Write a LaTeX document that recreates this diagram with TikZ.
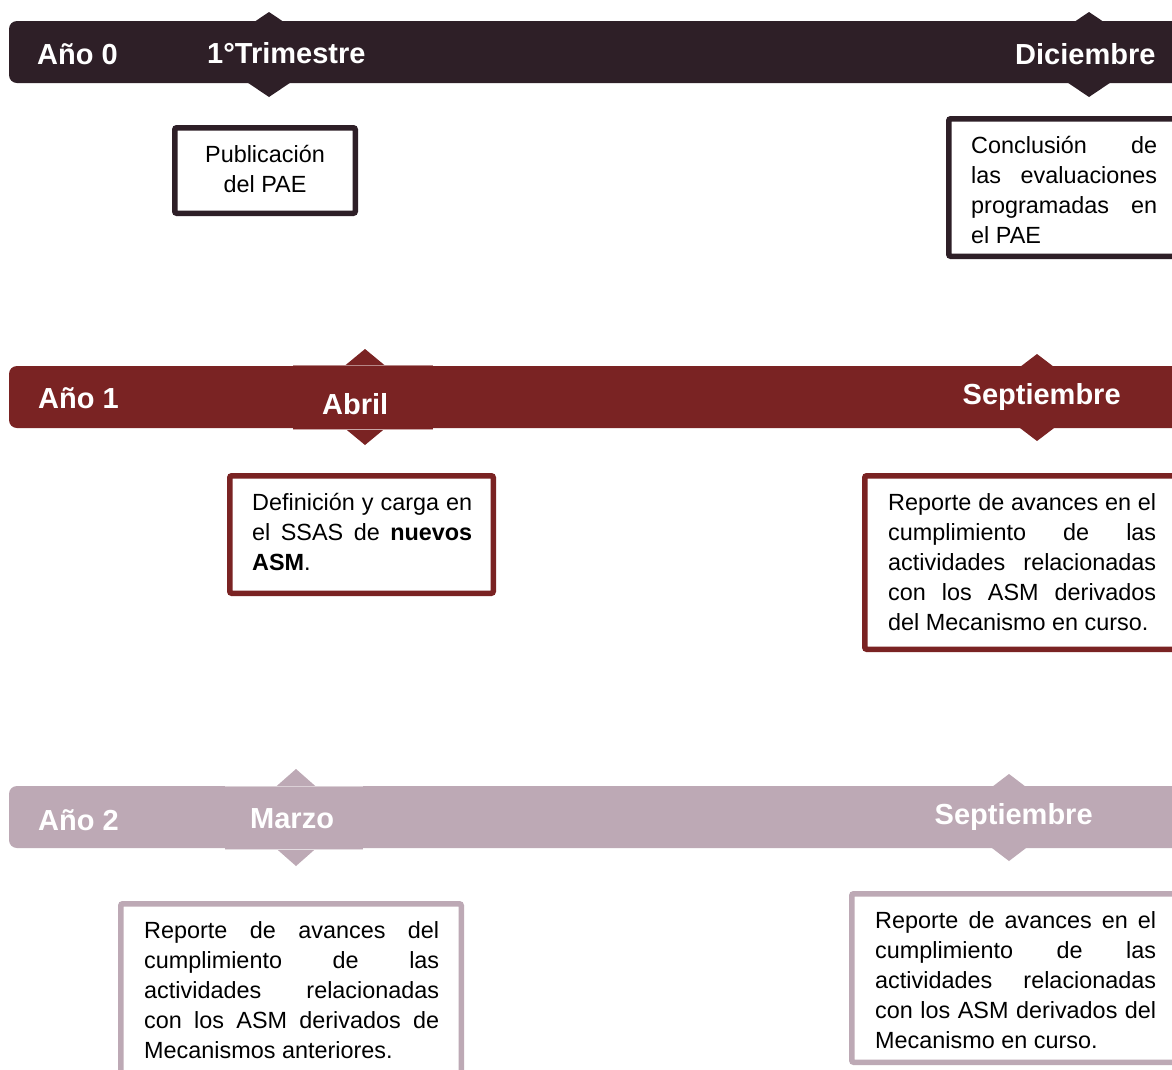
\documentclass[tikz,border=0pt]{standalone}
\usepackage{fontspec}
\setmainfont{Liberation Sans}
\definecolor{cDark}{HTML}{2E1F27}
\definecolor{cRed}{HTML}{7A2323}
\definecolor{cPink}{HTML}{BDA9B5}
\tikzset{
  bandshape/.style={rounded corners=8pt},
  lbl/.style={anchor=base west, inner sep=0pt, text=white, font=\fontsize{29}{34}\selectfont\bfseries},
  boxframe/.style={line width=5.5pt, fill=white, rounded corners=2pt},
  body/.style={anchor=base west, inner sep=0pt, font=\fontsize{23.4}{30}\selectfont},
  bodyc/.style={anchor=base, inner sep=0pt, font=\fontsize{23.4}{30}\selectfont},
  edgeline/.style={line width=0.8pt},
}
\begin{document}
\begin{tikzpicture}[x=1pt,y=-1pt]
\useasboundingbox (0,0) rectangle (1172,1069);
\fill[white] (0,0) rectangle (1172,1069);
\clip (0,0) rectangle (1172,1069);

% ---------- Año 0 ----------
\fill[cDark] (269,12) -- ++(63,42.5) -- ++(-63,42.5) -- ++(-63,-42.5) -- cycle;
\fill[cDark] (1089,12) -- ++(63,42.5) -- ++(-63,42.5) -- ++(-63,-42.5) -- cycle;
\fill[cDark, bandshape] (9,21) rectangle (1210,83);
\node[lbl] (y0) at (37,64) {Año 0};
\node[lbl] (m0a) at (207,63.5) {1°Trimestre};
\node[lbl] (m0b) at (1015,64.5) {Diciembre};

\draw[boxframe, draw=cDark] (174.75,127.75) rectangle (355.25,213.25);
\node[bodyc] (t0a) at (265,162.5) {\parbox[t]{170pt}{\centering Publicación\\del PAE}};

\draw[boxframe, draw=cDark] (948.75,118.75) rectangle (1210,256.25);
\node[body] (t0b) at (971,153.5) {\parbox[t]{186pt}{%
\makebox[186pt][s]{Conclusión de}\\
\makebox[186pt][s]{las evaluaciones}\\
\makebox[186pt][s]{programadas en}\\
el PAE}};

% ---------- Año 1 ----------
\fill[cRed] (365,349) -- ++(58,48) -- ++(-58,48) -- ++(-58,-48) -- cycle;
\fill[cRed] (1037,354) -- ++(57,43.5) -- ++(-57,43.5) -- ++(-57,-43.5) -- cycle;
\fill[cRed, bandshape] (9,366) rectangle (1210,428);
\fill[cRed] (293,365) rectangle (433,430);
\draw[edgeline, cRed!55!white] (293,365.4) -- (433,365.4);
\draw[edgeline, cRed!40!white] (293,429.6) -- (433,429.6);
\node[lbl] (y1) at (38,408) {Año 1};
\node[lbl] (m1a) at (322,414.5) {Abril};
\node[lbl] (m1b) at (962.5,404) {Septiembre};

\draw[boxframe, draw=cRed] (229.75,475.75) rectangle (493.25,593.25);
\node[body] (t1a) at (252,510.5) {\parbox[t]{220pt}{%
\makebox[220pt][s]{Definición y carga en}\\
\makebox[220pt][s]{el SSAS de \textbf{nuevos}}\\
\textbf{ASM}.}};

\draw[boxframe, draw=cRed] (864.75,475.75) rectangle (1210,649.25);
\node[body] (t1b) at (888,510.5) {\parbox[t]{268pt}{%
\makebox[268pt][s]{Reporte de avances en el}\\
\makebox[268pt][s]{cumplimiento de las}\\
\makebox[268pt][s]{actividades relacionadas}\\
\makebox[268pt][s]{con los ASM derivados}\\
del Mecanismo en curso.}};

% ---------- Año 2 ----------
\fill[cPink] (296,769) -- ++(55,48.5) -- ++(-55,48.5) -- ++(-55,-48.5) -- cycle;
\fill[cPink] (1009,774) -- ++(57,43.5) -- ++(-57,43.5) -- ++(-57,-43.5) -- cycle;
\fill[cPink, bandshape] (9,786) rectangle (1210,848);
\fill[cPink] (225,786) rectangle (363,850);
\draw[edgeline, cPink!55!white] (225,786.4) -- (363,786.4);
\draw[edgeline, cPink!40!white] (225,849.6) -- (363,849.6);
\node[lbl] (y2) at (38,830) {Año 2};
\node[lbl] (m2a) at (250,828) {Marzo};
\node[lbl] (m2b) at (934.5,824) {Septiembre};

\draw[boxframe, draw=cPink] (120.75,903.75) rectangle (461.25,1110);
\node[body] (t2a) at (144,938) {\parbox[t]{295pt}{%
\makebox[295pt][s]{Reporte de avances del}\\
\makebox[295pt][s]{cumplimiento de las}\\
\makebox[295pt][s]{actividades relacionadas}\\
\makebox[295pt][s]{con los ASM derivados de}\\
Mecanismos anteriores.}};

\draw[boxframe, draw=cPink] (851.75,893.75) rectangle (1210,1062.25);
\node[body] (t2b) at (875,928) {\parbox[t]{281pt}{%
\makebox[281pt][s]{Reporte de avances en el}\\
\makebox[281pt][s]{cumplimiento de las}\\
\makebox[281pt][s]{actividades relacionadas}\\
\makebox[281pt][s]{con los ASM derivados del}\\
Mecanismo en curso.}};
\end{tikzpicture}
\end{document}
